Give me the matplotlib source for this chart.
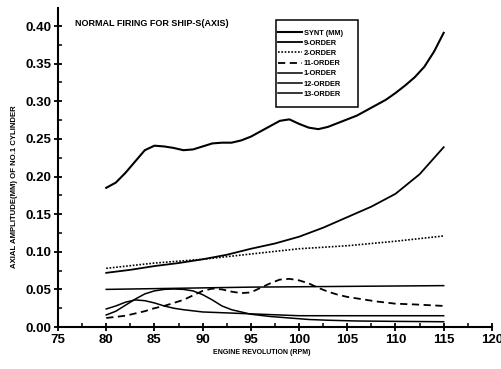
import matplotlib.pyplot as plt
from matplotlib.patches import Rectangle
from matplotlib.ticker import MultipleLocator

plt.rcParams['font.family'] = ['Liberation Sans', 'DejaVu Sans']
plt.rcParams['font.weight'] = 'bold'

# axial amplitude (mm) vs engine speed (rpm), one pair of lists per order
synt_rpm = [80, 81, 82, 83, 84, 85, 86, 87, 88, 89, 90, 91, 92, 93, 94, 95, 96, 97,
            98, 99, 100, 101, 102, 103, 104, 105, 106, 107, 108, 109, 110, 111, 112,
            113, 114, 115]
synt_amp = [0.185, 0.192, 0.205, 0.220, 0.235, 0.241, 0.240, 0.238, 0.235, 0.236,
            0.240, 0.244, 0.245, 0.245, 0.248, 0.253, 0.260, 0.267, 0.274, 0.276,
            0.270, 0.265, 0.263, 0.266, 0.271, 0.276, 0.281, 0.288, 0.295, 0.302,
            0.311, 0.321, 0.332, 0.346, 0.366, 0.391]

o9_rpm = [80, 82.5, 85, 87.5, 90, 92.5, 95, 97.5, 100, 102.5, 105, 107.5, 110, 112.5, 115]
o9_amp = [0.072, 0.076, 0.081, 0.085, 0.090, 0.096, 0.104, 0.111, 0.120, 0.132,
          0.146, 0.160, 0.177, 0.203, 0.239]

o2_rpm = [80, 85, 90, 95, 100, 105, 110, 115]
o2_amp = [0.078, 0.085, 0.090, 0.097, 0.104, 0.108, 0.114, 0.121]

o11_rpm = [80, 82, 84, 85, 86, 87, 88, 89, 90, 91, 92, 93, 94, 95, 96, 97, 98, 99,
           100, 101, 102, 103, 104, 105, 106, 108, 110, 112, 115]
o11_amp = [0.012, 0.015, 0.021, 0.025, 0.028, 0.032, 0.036, 0.042, 0.048, 0.051,
           0.050, 0.047, 0.045, 0.046, 0.052, 0.058, 0.063, 0.064, 0.062, 0.058,
           0.052, 0.047, 0.043, 0.040, 0.038, 0.034, 0.031, 0.030, 0.028]

o1_rpm = [80, 95, 115]
o1_amp = [0.050, 0.053, 0.055]

o12_rpm = [80, 81, 82, 83, 84, 85, 86, 87, 88, 90, 92, 94, 96, 98, 100, 105, 110, 115]
o12_amp = [0.024, 0.028, 0.033, 0.036, 0.035, 0.032, 0.028, 0.025, 0.023, 0.020,
           0.019, 0.018, 0.017, 0.016, 0.015, 0.015, 0.015, 0.015]

o13_rpm = [80, 81, 82, 83, 84, 85, 86, 87, 88, 89, 90, 91, 92, 93, 94, 95, 97, 99,
           101, 103, 106, 110, 115]
o13_amp = [0.016, 0.021, 0.029, 0.037, 0.044, 0.048, 0.050, 0.0505, 0.050, 0.048,
           0.043, 0.036, 0.028, 0.023, 0.020, 0.017, 0.014, 0.012, 0.010, 0.009,
           0.008, 0.0075, 0.007]

fig = plt.figure(figsize=(5.01, 3.69), dpi=100)
ax = fig.add_axes([0.1158, 0.1138, 0.866, 0.8645])

ax.plot(synt_rpm, synt_amp, color='black', lw=1.5, label='SYNT (MM)')
ax.plot(o9_rpm, o9_amp, color='black', lw=1.3, label='9-ORDER')
ax.plot(o2_rpm, o2_amp, color='black', lw=1.2, ls=(0, (1, 1)), label='2-ORDER')
ax.plot(o11_rpm, o11_amp, color='black', lw=1.3, ls=(0, (4, 2.5)), label='11-ORDER')
ax.plot(o1_rpm, o1_amp, color='black', lw=1.1, label='1-ORDER')
ax.plot(o12_rpm, o12_amp, color='black', lw=1.1, label='12-ORDER')
ax.plot(o13_rpm, o13_amp, color='black', lw=1.1, label='13-ORDER')

ax.set_xlim(75, 120)
ax.set_ylim(0, 0.424)
ax.xaxis.set_major_locator(MultipleLocator(5))
ax.xaxis.set_minor_locator(MultipleLocator(2.5))
ax.yaxis.set_major_locator(MultipleLocator(0.05))
ax.yaxis.set_minor_locator(MultipleLocator(0.025))
ax.yaxis.set_major_formatter(plt.FormatStrFormatter('%.2f'))

for side in ('top', 'right'):
    ax.spines[side].set_visible(False)
for side in ('left', 'bottom'):
    ax.spines[side].set_linewidth(1.5)
ax.tick_params(which='major', direction='inout', length=6, width=1.3,
               labelsize=9.5, pad=2)
ax.tick_params(which='minor', direction='in', length=3, width=1.1)

ax.set_xlabel('ENGINE REVOLUTION (RPM)', fontsize=5, fontweight='bold')
ax.xaxis.set_label_coords(0.47, -0.07)
ax.set_ylabel('AXIAL AMPLITUDE(MM) OF NO.1 CYLINDER', fontsize=5.6,
              fontweight='bold')
ax.yaxis.set_label_coords(-0.092, 0.44)
ax.text(0.04, 0.965, 'NORMAL FIRING FOR SHIP-S(AXIS)', transform=ax.transAxes,
        fontsize=6.5, fontweight='bold', va='top', ha='left')

# legend entries without their own frame, boxed by a taller rectangle
leg = ax.legend(loc='upper left', bbox_to_anchor=(0.502, 0.94), fontsize=5.3,
                frameon=False, handlelength=3.3, handletextpad=0.2,
                borderpad=0.3, labelspacing=0.42, borderaxespad=0)
ax.add_patch(Rectangle((0.502, 0.690), 0.19, 0.272, transform=ax.transAxes,
                       fill=False, edgecolor='black', lw=1.1, zorder=5))

fig.savefig('out.png', dpi=100)
